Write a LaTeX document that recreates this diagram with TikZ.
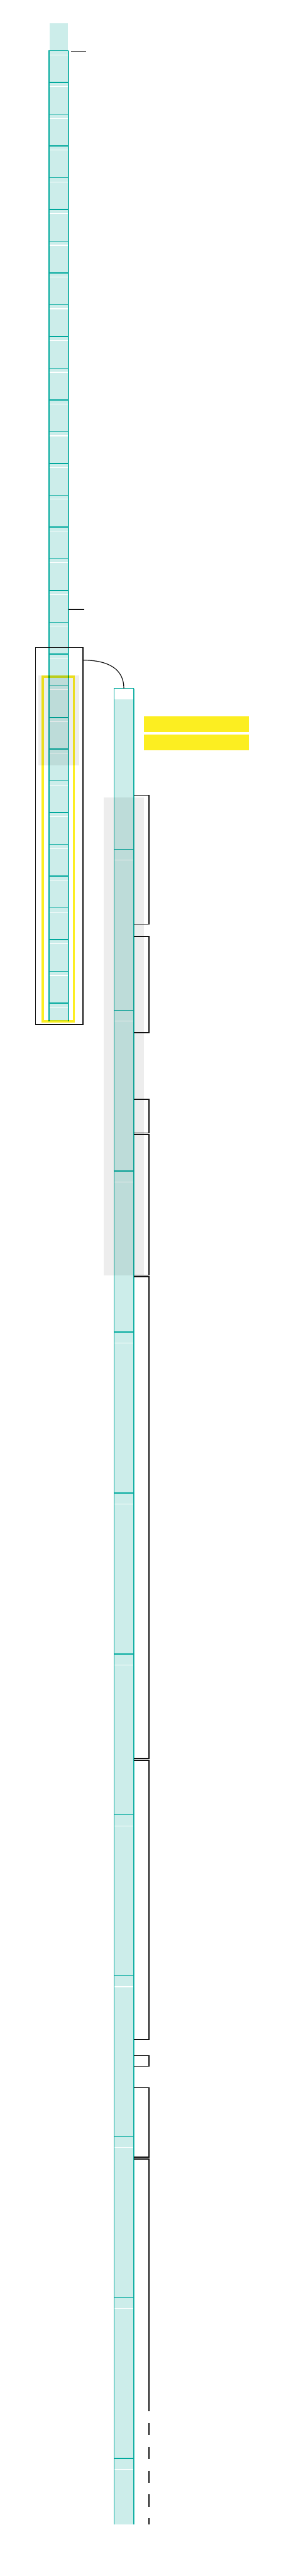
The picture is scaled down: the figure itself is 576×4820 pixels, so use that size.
\documentclass[tikz,border=0pt]{standalone}
\usepackage{xcolor}
\usepackage{tikz}
\usetikzlibrary{positioning,calc}
\definecolor{CTeal}{HTML}{00A99D}
\definecolor{CMint}{HTML}{CCEDEA}
\definecolor{CEdge}{HTML}{4DC3BA}
\definecolor{CShade}{HTML}{EDEDED}
\definecolor{CYellow}{HTML}{FCEE21}
\definecolor{CInk}{HTML}{111111}

\begin{document}
\begin{tikzpicture}[x=1pt, y=-1pt,
  every node/.style={inner sep=0pt, outer sep=0pt, anchor=north west},
  roll/.style={fill=CMint},
  seam/.style={CTeal, line width=1.8pt},
  sheen/.style={white, line width=1.4pt},
  shadebox/.style={fill=CShade},
  hilite/.style={fill=CYellow},
  bracketline/.style={CInk, line width=1.8pt}]
  \useasboundingbox[fill=white] (0,0) rectangle (576,4820);

  % long roll on the left
  \fill[CMint] (92.4,44) rectangle (127.4,95);
  \node[roll, minimum width=37.7pt, minimum height=1816pt] (leftroll) at (91,95) {};
  \foreach \k [evaluate=\k as \yy using 95+59.4*\k] in {0,...,30}{
    \draw[seam] (91,\yy) -- (128.7,\yy);
    \draw[sheen] (92.4,\yy+7.6) -- (127.4,\yy+7.6);
  }
  \draw[CTeal, line width=1.6pt] (91.8,95) -- (91.8,1911);
  \draw[CTeal, line width=1pt] (127.3,95) -- (127.3,1911);
  \draw[CEdge, line width=0.8pt] (128.3,95) -- (128.3,1911);

  % short roll on the right
  \node[roll, minimum width=38.3pt, minimum height=3435pt] (rightroll) at (212.7,1288) {};
  \fill[white] (rightroll.north west) rectangle ++(38.3,21);
  \foreach \k [evaluate=\k as \yy using 1288+301.1*\k] in {0,...,11}{
    \draw[seam] (212.7,\yy) -- (251,\yy);
  }
  \foreach \k [evaluate=\k as \yy using 1288+301.1*\k+20.5] in {1,...,11}{
    \draw[sheen] (214,\yy) -- (249.6,\yy);
  }
  \draw[CTeal, line width=1.6pt] (213.5,1288) -- (213.5,4723);
  \draw[CTeal, line width=1pt] (249.7,1288) -- (249.7,4723);
  \draw[CEdge, line width=0.8pt] (250.7,1288) -- (250.7,4723);

  % overlays
  \begin{scope}[blend mode=multiply]
    \node[shadebox, minimum width=76pt, minimum height=168pt] (leftshade) at (72,1264) {};
    \node[shadebox, minimum width=76pt, minimum height=894pt] (rightshade) at (194,1492) {};
    \draw[CYellow, line width=4pt] (80,1266) rectangle (138,1911);
  \end{scope}

  \node[draw=CInk, line width=1.6pt, minimum width=88.5pt, minimum height=705.3pt] (zoombox) at (66.75,1211.75) {};
  \coordinate (bend) at ($(zoombox.north east)+(0,23.5)$);
  \draw[CInk, line width=1.4pt] (bend) .. controls +(48,0) and +(0,-36) .. (rightroll.north);

  % ticks beside the left roll
  \draw[bracketline] ($(leftroll.north east)+(4.6,1)$) -- ++(28,0);
  \draw[bracketline] ($(leftroll.north east)+(0,1045)$) -- ++(28.6,0);

  \node[hilite, minimum width=196pt, minimum height=29.3pt] (tagone) at (270,1340) {};
  \node[hilite, minimum width=196pt, minimum height=29.7pt] (tagtwo) at (270,1374) {};

  % brackets on the right roll
  \foreach \ya/\yb in {1488/1729, 1752/1932, 2057/2120, 2123/2386,
                       2389/3290, 3294/3816, 3846/3866, 3906/4036}{
    \draw[bracketline] (rightroll.east |- 0,\ya) -| (279,\yb) -- (rightroll.east |- 0,\yb);
  }
  \draw[bracketline] (rightroll.east |- 0,4040) -| (279,4512);
  \draw[bracketline, dash pattern=on 22.5pt off 22pt] (279,4534) -- (279,4723);
\end{tikzpicture}
\end{document}
